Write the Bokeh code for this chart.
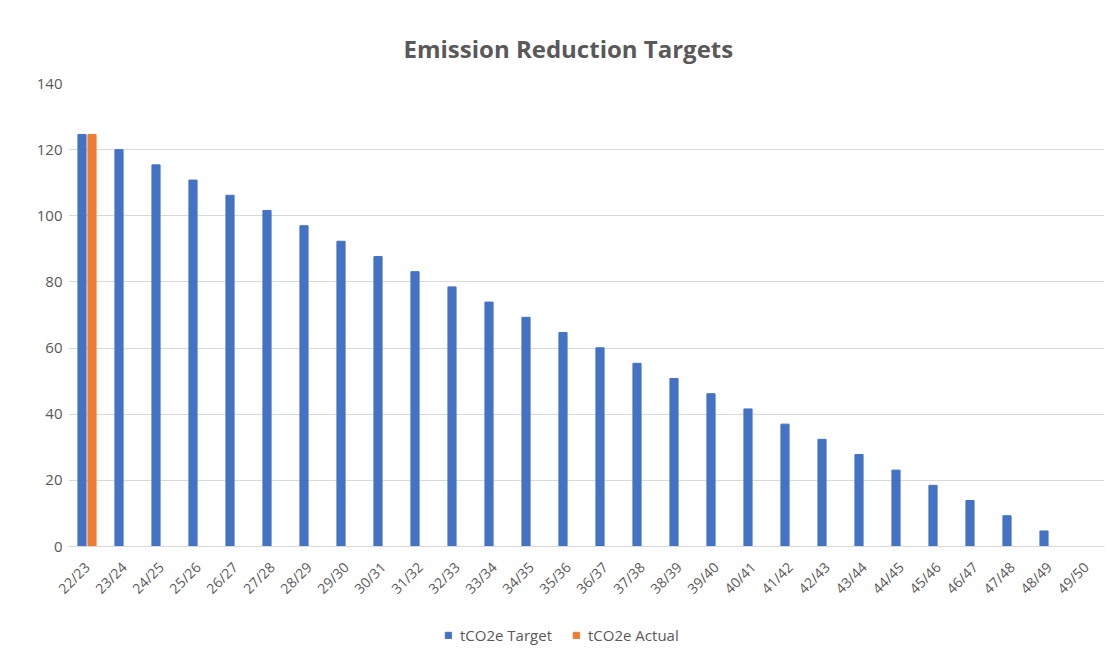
import math
from bokeh.plotting import figure
from bokeh.layouts import column
from bokeh.models import FactorRange, Legend, LegendItem, ColumnDataSource
from bokeh.transform import dodge
from bokeh.embed import file_html
from bokeh.resources import INLINE

categories = ["22/23", "23/24", "24/25", "25/26", "26/27", "27/28", "28/29", "29/30",
              "30/31", "31/32", "32/33", "33/34", "34/35", "35/36", "36/37", "37/38",
              "38/39", "39/40", "40/41", "41/42", "42/43", "43/44", "44/45", "45/46",
              "46/47", "47/48", "48/49", "49/50"]
target = [124.6, 120.0, 115.4, 110.8, 106.2, 101.6, 97.0, 92.3, 87.7, 83.1,
          78.5, 73.9, 69.3, 64.7, 60.1, 55.4, 50.8, 46.2, 41.6, 37.0,
          32.4, 27.8, 23.1, 18.5, 13.9, 9.3, 4.7, 0.0]
actual = [124.6] + [0.0] * 27
y_ticks = [0, 20, 40, 60, 80, 100, 120, 140]
series_names = ["tCO2e Target", "tCO2e Actual"]
series_colors = ["#4472C4", "#ED7D31"]

FONT = "Open Sans"
GREY = "#595959"

src = ColumnDataSource(dict(cat=categories, target=target, actual=actual))

p = figure(x_range=FactorRange(*categories), y_range=(0, 140),
           frame_width=1036, frame_height=463, output_backend="svg", toolbar_location=None,
           min_border_left=68, min_border_right=2, min_border_top=83, min_border_bottom=70)

p.title.text = "Emission Reduction Targets"
p.title.align = "left"
p.title.vertical_align = "top"
p.title.offset = 335
p.title.text_font = FONT
p.title.text_font_size = "24px"
p.title.text_font_style = "bold"
p.title.text_color = GREY
p.title.standoff = 34

p.vbar(x=dodge("cat", -0.135, range=p.x_range), top="target", width=0.22,
       source=src, color=series_colors[0])
p.vbar(x=dodge("cat", 0.135, range=p.x_range), top="actual", width=0.22,
       source=src, color=series_colors[1])

p.x_range.range_padding = 0

p.yaxis.ticker = y_ticks
p.yaxis.axis_line_color = None
p.yaxis.major_tick_line_color = None
p.yaxis.minor_tick_line_color = None
p.yaxis.major_label_text_font = FONT
p.yaxis.major_label_text_font_size = "15px"
p.yaxis.major_label_text_color = GREY
p.yaxis.major_label_standoff = 0

p.xaxis.axis_line_color = "#d9d9d9"
p.xaxis.major_tick_line_color = None
p.xaxis.minor_tick_line_color = None
p.xaxis.major_label_orientation = math.pi / 4
p.xaxis.major_label_text_font = FONT
p.xaxis.major_label_text_font_size = "14px"
p.xaxis.major_label_text_color = GREY
p.xaxis.major_label_standoff = 12

p.xgrid.grid_line_color = None
p.ygrid.grid_line_color = "#d9d9d9"
p.outline_line_color = None

# legend strip below the chart (proxy renderers lie outside the visible range)
lg = figure(width=1106, height=40, x_range=(0, 1), y_range=(0, 1),
            output_backend="svg", toolbar_location=None, min_border=0)
lg.axis.visible = False
lg.grid.visible = False
lg.outline_line_color = None
items = []
for name, col in zip(series_names, series_colors):
    r = lg.vbar(x=[5], top=[-5], width=0.1, color=col)
    items.append(LegendItem(label=name, renderers=[r], index=0))
legend = Legend(items=items, orientation="horizontal", location=(376, 11),
                glyph_width=8, glyph_height=8, label_text_font=FONT,
                label_text_font_size="15px", label_text_color=GREY,
                border_line_color=None, background_fill_alpha=0,
                spacing=20, label_standoff=8, padding=0, margin=0)
lg.add_layout(legend, "center")

layout = column(p, lg, spacing=0)
open("out.html", "w").write(file_html(layout, INLINE))
